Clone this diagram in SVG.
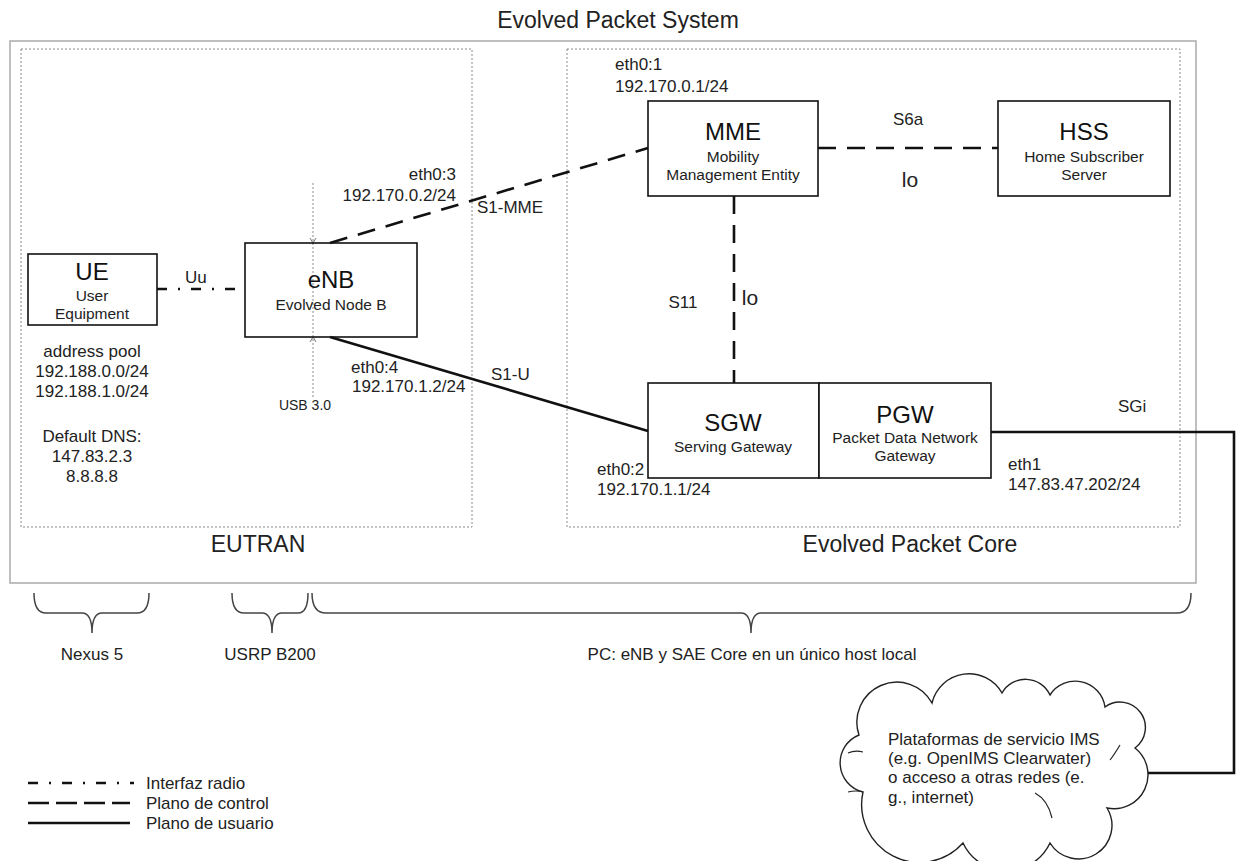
<svg xmlns="http://www.w3.org/2000/svg" width="1236" height="861" viewBox="0 0 1236 861">
<style>
text{font-family:"Liberation Sans",Arial,sans-serif;fill:#222}
.t{font-size:23px;text-anchor:middle}
.nt{font-size:24px;text-anchor:middle;fill:#111}
.ns{font-size:15.5px;text-anchor:middle}
.l{font-size:17px}
.c{text-anchor:middle}
.box{fill:#fff;stroke:#111;stroke-width:1.6}
.dot{fill:none;stroke:#888;stroke-width:1;stroke-dasharray:2 2}
.ctl{fill:none;stroke:#111;stroke-width:2.6;stroke-dasharray:18 11}
.usr{fill:none;stroke:#111;stroke-width:2.6}
.rad{fill:none;stroke:#111;stroke-width:2.6;stroke-dasharray:10 11 2 11}
.br{fill:none;stroke:#444;stroke-width:1.5}
</style>
<rect width="1236" height="861" fill="#fff"/>
<g id="system">
<rect x="10" y="41" width="1186" height="542" fill="none" stroke="#aaa" stroke-width="1.5"/>
<text class="t" x="618" y="28" font-size="25">Evolved Packet System</text>
</g>
<g id="eutran">
<rect class="dot" x="21" y="49" width="451" height="478"/>
<text class="t" x="258" y="552">EUTRAN</text>
</g>
<g id="epc">
<rect class="dot" x="567" y="49" width="613" height="478"/>
<text class="t" x="910" y="552">Evolved Packet Core</text>
</g>
<g id="connectors">
<line class="rad" x1="157" y1="289" x2="245" y2="289"/>
<line class="ctl" x1="330" y1="243" x2="648" y2="148"/>
<line class="ctl" x1="818" y1="148" x2="998" y2="148"/>
<line class="ctl" x1="734" y1="196" x2="734" y2="383"/>
<line class="usr" x1="330" y1="337" x2="648" y2="431"/>
<path class="usr" d="M991,432 H1234 V773 H1145"/>
<line class="dot" x1="313" y1="183" x2="313" y2="397"/>
<path d="M310,238 L313,243 L316,238 M310,342 L313,337 L316,342" fill="none" stroke="#777" stroke-width="1"/>
<text class="l" x="185" y="283">Uu</text>
<text class="l" x="456" y="180" text-anchor="end">eth0:3</text>
<text class="l" x="456" y="201" text-anchor="end">192.170.0.2/24</text>
<text class="l" x="477" y="213">S1-MME</text>
<text class="l" x="351" y="373">eth0:4</text>
<text class="l" x="352" y="392">192.170.1.2/24</text>
<text class="l" x="491" y="380">S1-U</text>
<text x="305" y="410" font-size="14" text-anchor="middle">USB 3.0</text>
<text class="l c" x="908" y="125">S6a</text>
<text class="c" x="910" y="187" font-size="21">lo</text>
<text class="l c" x="683" y="308">S11</text>
<text x="750" y="305" font-size="21" text-anchor="middle">lo</text>
<text class="l" x="1118" y="412">SGi</text>
</g>
<g id="ue">
<rect class="box" x="28" y="254" width="129" height="71"/>
<text class="nt" x="92" y="280">UE</text>
<text class="ns" x="92" y="301">User</text>
<text class="ns" x="92" y="319">Equipment</text>
</g>
<g id="ue-info">
<text class="l c" x="92" y="357">address pool</text>
<text class="l c" x="92" y="377">192.188.0.0/24</text>
<text class="l c" x="92" y="397">192.188.1.0/24</text>
<text class="l c" x="92" y="442">Default DNS:</text>
<text class="l c" x="92" y="462">147.83.2.3</text>
<text class="l c" x="92" y="482">8.8.8.8</text>
</g>
<g id="enb">
<rect class="box" x="245" y="243" width="172" height="94" fill-opacity="0"/>
<text class="nt" x="331" y="288">eNB</text>
<text class="ns" x="331" y="310">Evolved Node B</text>
</g>
<g id="mme">
<rect class="box" x="648" y="101" width="170" height="95"/>
<text class="nt" x="733" y="140">MME</text>
<text class="ns" x="733" y="162">Mobility</text>
<text class="ns" x="733" y="180">Management Entity</text>
<text class="l" x="615" y="70">eth0:1</text>
<text class="l" x="615" y="92">192.170.0.1/24</text>
</g>
<g id="hss">
<rect class="box" x="998" y="101" width="172" height="95"/>
<text class="nt" x="1084" y="140">HSS</text>
<text class="ns" x="1084" y="162">Home Subscriber</text>
<text class="ns" x="1084" y="180">Server</text>
</g>
<g id="sgw">
<rect class="box" x="648" y="383" width="171" height="95"/>
<text class="nt" x="733" y="431">SGW</text>
<text class="ns" x="733" y="452">Serving Gateway</text>
<text class="l" x="597" y="475">eth0:2</text>
<text class="l" x="597" y="495">192.170.1.1/24</text>
</g>
<g id="pgw">
<rect class="box" x="819" y="383" width="172" height="95"/>
<text class="nt" x="905" y="423">PGW</text>
<text class="ns" x="905" y="443">Packet Data Network</text>
<text class="ns" x="905" y="461">Gateway</text>
<text class="l" x="1008" y="470">eth1</text>
<text class="l" x="1008" y="490">147.83.47.202/24</text>
</g>
<g id="cloud">
<path d="M863,792 A30,30 0 0 1 859,735 A40,40 0 0 1 932,703 A38,38 0 0 1 1002,693 A27,27 0 0 1 1050,695 A30,30 0 0 1 1105,707 A24,24 0 0 1 1135,748 A34,34 0 0 1 1107,808 A32,32 0 0 1 1050,843 A48,48 0 0 1 963,843 A58,58 0 0 1 863,792 Z" fill="#fff" stroke="#222" stroke-width="1.4"/>
<path d="M848,753 Q855,750 863,752 M863,792 Q856,790 848,792 M1035,793 Q1048,800 1052,818 M1120,745 Q1114,755 1110,760" fill="none" stroke="#222" stroke-width="1.2"/>
<text class="l" x="888" y="745">Plataformas de servicio IMS</text>
<text class="l" x="888" y="764">(e.g. OpenIMS Clearwater)</text>
<text class="l" x="888" y="783">o acceso a otras redes (e.</text>
<text class="l" x="888" y="803">g., internet)</text>
</g>
<g id="hardware">
<path class="br" d="M34,593 Q34,613 46,613 L82,613 Q92,613 92,633 Q92,613 102,613 L137,613 Q149,613 149,593"/>
<path class="br" d="M232,593 Q232,613 244,613 L262,613 Q272,613 272,633 Q272,613 282,613 L298,613 Q308,613 308,593"/>
<path class="br" d="M312,593 Q312,613 326,613 L741,613 Q751,613 751,633 Q751,613 761,613 L1177,613 Q1191,613 1191,593"/>
<text class="l c" x="92" y="660">Nexus 5</text>
<text class="l c" x="270" y="660">USRP B200</text>
<text class="l c" x="752" y="660">PC: eNB y SAE Core en un único host local</text>
</g>
<g id="legend">
<line class="rad" x1="28" y1="783" x2="134" y2="783"/>
<line x1="28" y1="803" x2="130" y2="803" fill="none" stroke="#111" stroke-width="2.6" stroke-dasharray="21 7"/>
<line class="usr" x1="28" y1="823" x2="130" y2="823"/>
<text class="l" x="146" y="789">Interfaz radio</text>
<text class="l" x="146" y="809">Plano de control</text>
<text class="l" x="146" y="829">Plano de usuario</text>
</g>
</svg>
